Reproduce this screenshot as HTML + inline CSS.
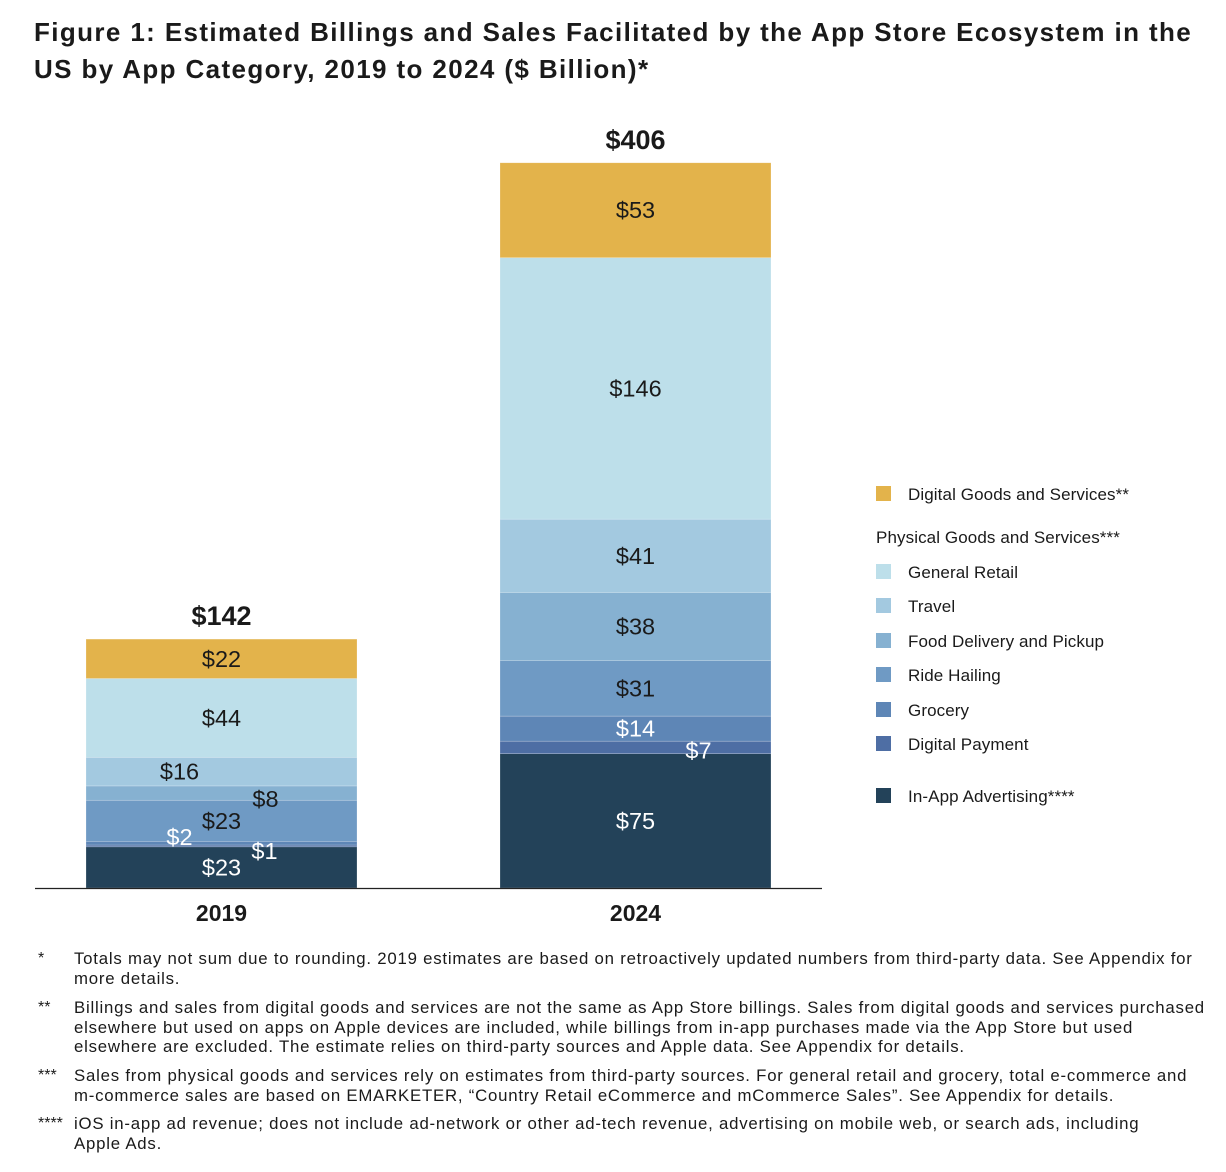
<!DOCTYPE html>
<html><head><meta charset="utf-8">
<style>
body{margin:0;width:1226px;height:1172px;background:#fff;font-family:"Liberation Sans",Arial,sans-serif;color:#1a1a1a;position:relative;overflow:hidden}
#title{position:absolute;left:34px;top:14px;width:1190px;font-size:26px;letter-spacing:1.38px;font-weight:bold;line-height:37px;color:#1a1a1a;white-space:nowrap}
.fn{position:absolute;left:38px;font-size:16.8px;letter-spacing:0.78px;line-height:19.5px;color:#1a1a1a;white-space:nowrap}
.fn .m{position:absolute;left:0;top:0;letter-spacing:0;font-size:16px}
.fn .t{margin-left:36px}
</style></head><body>
<div id="title">Figure 1: Estimated Billings and Sales Facilitated by the App Store Ecosystem in the<br>US by App Category, 2019 to 2024 ($ Billion)*</div>
<svg id="chart" width="1226" height="940" style="position:absolute;left:0;top:0" font-family="Liberation Sans, Arial, sans-serif"></svg>
<div class="fn" style="top:949px"><span class="m">*</span><div class="t">Totals may not sum due to rounding. 2019 estimates are based on retroactively updated numbers from third-party data. See Appendix for<br>more details.</div></div>
<div class="fn" style="top:998px"><span class="m">**</span><div class="t">Billings and sales from digital goods and services are not the same as App Store billings. Sales from digital goods and services purchased<br>elsewhere but used on apps on Apple devices are included, while billings from in-app purchases made via the App Store but used<br>elsewhere are excluded. The estimate relies on third-party sources and Apple data. See Appendix for details.</div></div>
<div class="fn" style="top:1066px"><span class="m">***</span><div class="t">Sales from physical goods and services rely on estimates from third-party sources. For general retail and grocery, total e-commerce and<br>m-commerce sales are based on EMARKETER, “Country Retail eCommerce and mCommerce Sales”. See Appendix for details.</div></div>
<div class="fn" style="top:1114px"><span class="m">****</span><div class="t">iOS in-app ad revenue; does not include ad-network or other ad-tech revenue, advertising on mobile web, or search ads, including<br>Apple Ads.</div></div>
<script>
const years = ["2019","2024"];
const categories = ["In-App Advertising","Digital Payment","Grocery","Ride Hailing","Food Delivery and Pickup","Travel","General Retail","Digital Goods and Services"];
const values2019 = [23,1,2,23,8,16,44,22];
const values2024 = [75,7,14,31,38,41,146,53];
const totals = [142,406];
const series = [values2019, values2024];
const colors = ["#234259","#4E6EA4","#5E86B6","#6F9AC4","#86B1D1","#A3C9E0","#BDDFEA","#E3B34B"];
const labelWhite = [true,true,true,false,false,false,false,false];
const offs = [[[0,0],[43,4],[-42,0],[0,0],[44,6],[-42,0],[0,0],[0,0]],
              [[0,0],[63,3],[0,0],[0,0],[0,0],[0,0],[0,0],[0,0]]];
const svg=document.getElementById('chart');
const NS='http://www.w3.org/2000/svg';
const base=888, scale=727/406;
const y=v=>base-v*scale;
const barX=[86,500], barW=271;
function mk(t,a){const e=document.createElementNS(NS,t);for(const k in a)e.setAttribute(k,a[k]);svg.appendChild(e);return e;}
series.forEach((vals,b)=>{
  const tot=vals.reduce((a,c)=>a+c,0);
  let cum=0;
  vals.forEach((v,i)=>{
    const y0=y(cum), y1=y(cum+v);
    const r=mk('rect',{x:barX[b],y:y1,width:barW,height:y0-y1,fill:colors[i],stroke:'rgba(255,255,255,0.35)','stroke-width':0.6});
    
    
    cum+=v;
  });
  cum=0;
  vals.forEach((v,i)=>{
    const y0=y(cum), y1=y(cum+v);
    let cy=(y0+y1)/2+8, cx=barX[b]+barW/2;
    if(b===0&&i===1)cy=y0+8;
    if(b===0&&i===2)cy=y0;
    const t=mk('text',{x:cx+offs[b][i][0],y:cy+offs[b][i][1],'text-anchor':'middle','font-size':23.5,fill:labelWhite[i]?'#fff':'#1a1a1a'});
    t.textContent='$'+v;
    
    
    cum+=v;
  });
  const tl=mk('text',{x:barX[b]+barW/2,y:y(tot)-14,'text-anchor':'middle','font-size':27,'font-weight':'bold',fill:'#1a1a1a'});
  tl.textContent='$'+totals[b];
  
  
  const xl=mk('text',{x:barX[b]+barW/2,y:921,'text-anchor':'middle','font-size':23,'font-weight':'bold',fill:'#1a1a1a'});
  xl.textContent=years[b];
  
  
});
const ax=mk('line',{x1:35,x2:822,y1:888.5,y2:888.5,stroke:'#222','stroke-width':1.2});


const legend=[[7,494],[null,537,'Physical Goods and Services***'],[6,572],[5,606],[4,641],[3,675],[2,710],[1,744],[0,796]];
const legendNames={7:'Digital Goods and Services**',0:' In-App Advertising****'};
legend.forEach(l=>{
  if(l[0]===null){const t=mk('text',{x:876,y:l[1]+6,'font-size':17,'letter-spacing':0.1,fill:'#1a1a1a'});t.textContent=l[2];
    
    return;}
  const i=l[0];
  const r=mk('rect',{x:876,y:l[1]-8,width:15,height:15,fill:colors[i]});
  
  
  const t=mk('text',{x:908,y:l[1]+6,'font-size':17,'letter-spacing':0.1,fill:'#1a1a1a','xml:space':'preserve'});
  t.textContent=legendNames[i]||categories[i];
  
  
});
</script>
</body></html>
